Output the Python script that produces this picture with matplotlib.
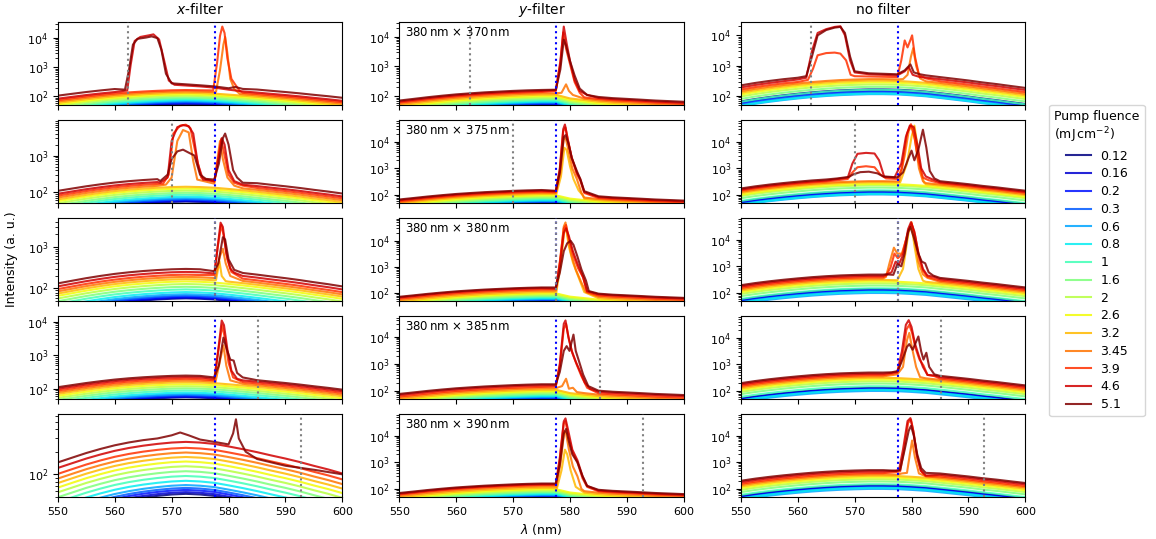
import matplotlib
matplotlib.use("Agg")
import matplotlib.pyplot as plt
from matplotlib.ticker import NullFormatter

# pump fluences (mJ cm^-2), one spectrum each
fluences = [0.12, 0.16, 0.2, 0.3, 0.6, 0.8, 1, 1.6, 2, 2.6, 3.2, 3.45, 3.9, 4.6, 5.1]
fluence_labels = ["0.12", "0.16", "0.2", "0.3", "0.6", "0.8", "1", "1.6", "2",
                  "2.6", "3.2", "3.45", "3.9", "4.6", "5.1"]

col_titles = ["$x$-filter", "$y$-filter", "no filter"]
grating_labels = ["380$\\,$nm $\\times$ 370$\\,$nm", "380$\\,$nm $\\times$ 375$\\,$nm",
                  "380$\\,$nm $\\times$ 380$\\,$nm", "380$\\,$nm $\\times$ 385$\\,$nm",
                  "380$\\,$nm $\\times$ 390$\\,$nm"]
bragg_x = 577.6                                      # blue dotted line
bragg_y = [562.4, 570.0, 577.6, 585.2, 592.8]        # grey dotted lines per row

# broad emission background (relative shape)
wl_nodes = [550, 552.5, 555, 557.5, 560, 562.5, 565, 567.5, 570, 572.5, 575,
            577.5, 580, 582.5, 585, 587.5, 590, 592.5, 595, 597.5, 600]
shape_x = [0.45, 0.52, 0.60, 0.68, 0.76, 0.83, 0.89, 0.94, 0.98, 1.0, 0.98,
           0.94, 0.87, 0.80, 0.73, 0.66, 0.60, 0.54, 0.48, 0.43, 0.38]
shape_y = [0.44, 0.50, 0.57, 0.64, 0.71, 0.77, 0.83, 0.88, 0.93, 0.97, 1.0,
           1.0, 0.75, 0.66, 0.58, 0.53, 0.50, 0.47, 0.44, 0.42, 0.40]
shape_nf = [0.40, 0.48, 0.56, 0.64, 0.72, 0.80, 0.87, 0.93, 0.97, 1.0, 1.0,
            0.98, 0.92, 0.85, 0.75, 0.66, 0.58, 0.50, 0.44, 0.38, 0.33]

# background level (counts at the maximum) for each fluence, per row
levels_x = [
    [55, 57, 60, 63, 68, 74, 82, 92, 105, 118, 132, 148, 165, 185, 235],
    [55, 57, 60, 63, 68, 75, 85, 96, 110, 125, 140, 158, 178, 200, 240],
    [58, 60, 63, 67, 73, 82, 95, 110, 128, 148, 168, 190, 215, 250, 295],
    [56, 58, 61, 65, 70, 78, 90, 104, 120, 138, 158, 178, 200, 225, 250],
    [55, 58, 62, 66, 72, 82, 95, 110, 128, 148, 170, 195, 225, 270, 320],
]
levels_y = [
    [52, 54, 56, 58, 62, 66, 72, 80, 90, 100, 112, 125, 138, 150, 162],
    [50, 52, 54, 56, 60, 64, 70, 78, 88, 98, 110, 122, 133, 145, 155],
    [50, 52, 54, 56, 60, 64, 70, 78, 88, 98, 110, 125, 140, 155, 165],
    [50, 52, 54, 56, 60, 64, 70, 78, 88, 98, 110, 125, 140, 160, 175],
    [50, 52, 54, 56, 60, 64, 70, 78, 88, 98, 110, 125, 140, 150, 160],
]
levels_nf = [
    [165, 155, 145, 130, 115, 120, 160, 200, 240, 280, 320, 360, 410, 480, 560],
    [140, 135, 125, 115, 105, 110, 150, 190, 230, 260, 300, 330, 370, 400, 440],
    [140, 135, 125, 115, 100, 110, 150, 190, 230, 270, 310, 350, 390, 440, 490],
    [130, 125, 118, 110, 100, 110, 150, 190, 230, 270, 310, 350, 390, 440, 490],
    [135, 130, 120, 112, 100, 110, 150, 190, 230, 270, 310, 350, 390, 450, 505],
]

# lasing features: fluence index -> (wavelength, counts) points
peaks_x = [
    {14: [(561.8, 170), (562.5, 800), (563.2, 6000), (564, 9500), (565.5, 10500), (566.5, 11500),
          (567.5, 10000), (568.2, 4000), (569, 600), (570, 280), (575, 240), (577.5, 220), (580, 190),
          (581.2, 210), (582.5, 180)],
     13: [(562.2, 160), (562.8, 1200), (563.5, 8000), (564.5, 11000), (566, 12500), (566.8, 13500),
          (567.8, 9000), (568.6, 2000), (569.5, 350), (570.5, 250), (575, 220), (577.5, 200), (580, 170)],
     12: [(577.3, 160), (578, 1500), (578.5, 12000), (578.9, 25000), (579.3, 15000), (579.8, 2000),
          (580.5, 400), (581.2, 250), (582, 150)],
     11: [(577.8, 145), (578.5, 800), (579.1, 6000), (579.4, 11000), (579.8, 3000), (580.3, 400),
          (581, 180), (582, 120)]},
    {14: [(568, 200), (569.3, 300), (570, 800), (571, 1300), (572, 1450), (573, 1200), (574, 1000),
          (575, 300), (576, 230), (577.5, 220), (578.3, 600), (579, 3000), (579.4, 4000), (580, 2000),
          (580.8, 400), (581.5, 250), (582.5, 180)],
     13: [(568, 180), (569.3, 250), (570, 2500), (571, 6000), (572, 6800), (573, 6400), (573.8, 4000),
          (574.6, 600), (575.5, 220), (577.5, 200), (578.3, 1000), (578.8, 3000), (579.3, 2000),
          (580, 400), (581, 200), (582.5, 160)],
     12: [(568.5, 170), (569.5, 300), (570.3, 4000), (571.5, 6600), (572.5, 7000), (573.3, 5600),
          (574.3, 1000), (575.2, 250), (577.5, 190), (578.2, 800), (578.7, 2800), (579.2, 1200),
          (580, 300), (581, 180), (582.5, 150)],
     11: [(569, 160), (570, 250), (571, 2500), (572, 5000), (573, 4300), (573.8, 700), (574.5, 220),
          (577.5, 170), (578.2, 1200), (578.5, 2500), (579, 800), (579.8, 250), (581, 150)]},
    {13: [(577.5, 230), (578, 800), (578.6, 3800), (579, 3000), (579.6, 700), (580.3, 300), (581, 240)],
     12: [(577.5, 210), (578.1, 1000), (578.7, 3400), (579.1, 2000), (579.8, 500), (580.5, 250)],
     14: [(577.5, 260), (578.2, 400), (579, 1700), (579.4, 1500), (580, 500), (581, 280)],
     11: [(577.7, 190), (578.5, 600), (579, 900), (579.5, 400), (580.3, 200)],
     10: [(577.8, 160), (578.4, 450), (578.8, 200), (579.5, 150)]},
    {13: [(577.5, 200), (578.2, 1500), (578.8, 11000), (579.2, 8000), (579.8, 1500), (580.5, 350),
          (581.5, 200)],
     12: [(577.5, 180), (578.3, 1800), (578.9, 8000), (579.4, 3000), (580, 600), (580.8, 220)],
     14: [(577.5, 220), (578.3, 500), (579.1, 3400), (579.7, 1500), (580.3, 750), (580.9, 700),
          (581.5, 300), (582.5, 220)],
     11: [(577.7, 160), (578.5, 700), (579.1, 2000), (579.6, 500), (580.3, 180)]},
    {14: [(567.5, 300), (570, 330), (571.5, 360), (573, 330), (575, 290), (577.5, 270), (580, 250),
          (580.8, 350), (581.3, 540), (581.8, 300), (583, 200), (585, 160), (590, 130), (595, 115),
          (600, 100)]},
]

peaks_y = [
    {13: [(577.5, 160), (578.3, 1500), (578.9, 22000), (579.4, 6000), (580, 1500), (580.8, 350),
          (581.7, 150), (583, 110)],
     12: [(577.5, 150), (578.3, 1200), (578.8, 14000), (579.3, 4000), (580, 1200), (580.8, 300),
          (581.7, 130)],
     14: [(577.5, 165), (578.3, 800), (578.9, 8000), (579.3, 5000), (580, 1500), (580.8, 500),
          (581.7, 180), (583, 110)],
     11: [(577.5, 125), (578.5, 130), (579.3, 250), (579.8, 150), (580.5, 110)]},
    {13: [(577.5, 140), (578.2, 1000), (578.8, 30000), (579.1, 45000), (579.6, 12000), (580.3, 2500),
          (581.2, 700), (581.8, 400), (582.5, 130)],
     12: [(577.5, 130), (578.2, 800), (578.8, 25000), (579.2, 35000), (579.7, 10000), (580.3, 2500),
          (581.2, 600), (581.8, 350), (582.5, 120)],
     14: [(577.5, 145), (578.2, 700), (578.9, 15000), (579.2, 18000), (579.7, 9000), (580.3, 2500),
          (581.2, 800), (581.8, 400), (582.5, 140)],
     11: [(577.5, 120), (578.3, 700), (578.9, 15000), (579.3, 12000), (579.8, 4000), (580.4, 1000),
          (581.2, 400), (582, 120)],
     10: [(577.6, 110), (578.4, 500), (579, 6000), (579.4, 5000), (580, 1200), (580.6, 400),
          (581.5, 150), (582.2, 100)]},
    {11: [(577.5, 125), (578.3, 2000), (578.9, 35000), (579.2, 50000), (579.6, 15000), (580.2, 3000),
          (581, 800), (582, 250), (582.8, 110)],
     10: [(577.6, 110), (578.4, 1500), (579, 25000), (579.3, 30000), (579.8, 6000), (580.5, 1500),
          (581.5, 400), (582.5, 110)],
     12: [(577.5, 140), (578.2, 1500), (578.9, 30000), (579.3, 40000), (579.8, 12000), (580.5, 3000),
          (581.4, 900), (582.3, 400), (583, 110)],
     13: [(577.5, 150), (578.2, 1200), (578.9, 20000), (579.3, 30000), (579.8, 15000), (580.5, 4000),
          (581.4, 1200), (582.3, 400), (583, 120)],
     14: [(577.5, 165), (578.2, 600), (578.9, 4000), (579.5, 8000), (580.1, 10000), (580.6, 7000),
          (581.3, 2500), (582, 800), (582.8, 300), (583.3, 120)]},
    {13: [(577.5, 160), (578.2, 1000), (578.9, 30000), (579.2, 40000), (579.7, 10000), (580.3, 3000),
          (581, 1200), (581.8, 500), (582.6, 200), (583.5, 120)],
     12: [(577.5, 145), (578.2, 800), (578.9, 20000), (579.3, 30000), (579.8, 8000), (580.4, 2500),
          (581.2, 900), (582, 350), (583, 130)],
     14: [(577.5, 175), (578.2, 500), (578.9, 3000), (579.4, 4500), (579.9, 3000), (580.6, 12000),
          (581, 3000), (581.6, 1200), (582.3, 400), (583.2, 150)],
     11: [(577.5, 125), (578.6, 150), (579.3, 280), (579.8, 120), (580.5, 130), (581.2, 90)]},
    {13: [(577.5, 150), (578.2, 1500), (578.9, 35000), (579.2, 45000), (579.7, 15000), (580.4, 3000),
          (581.3, 1200), (582.2, 300), (583, 130)],
     12: [(577.5, 140), (578.2, 1200), (578.9, 30000), (579.2, 35000), (579.7, 10000), (580.4, 2500),
          (581.3, 1000), (582.2, 250), (583, 120)],
     14: [(577.5, 160), (578.2, 800), (578.9, 12000), (579.3, 18000), (579.8, 6000), (580.4, 2000),
          (581.3, 1000), (582.2, 300), (583, 130)],
     11: [(577.6, 120), (578.3, 900), (579, 15000), (579.3, 12000), (579.8, 3000), (580.5, 700),
          (581.3, 300), (582, 100)],
     10: [(577.7, 105), (578.5, 500), (579.1, 3000), (579.5, 2000), (580.1, 500), (581, 120)]},
]

peaks_nf = [
    {14: [(560, 400), (561.5, 450), (562.5, 2000), (563.5, 10000), (565, 15000), (566.5, 18000),
          (567.5, 19000), (568.3, 12000), (569.2, 2000), (570, 650), (572.5, 560), (575, 540),
          (577.5, 520), (578.8, 700), (579.8, 1100), (580.4, 600), (581.5, 520), (582.5, 480)],
     13: [(560, 350), (561.5, 400), (562.5, 3000), (563.5, 12000), (565, 16000), (566.5, 19000),
          (567.5, 20000), (568.3, 10000), (569.2, 1500), (570, 600), (572.5, 520), (575, 500),
          (577.5, 480), (578.8, 650), (579.5, 900), (580.2, 500), (581.5, 420)],
     12: [(560, 290), (561.8, 340), (562.7, 800), (563.5, 2200), (565, 2600), (566.5, 2700),
          (567.5, 2500), (568.5, 1500), (569.3, 500), (570, 450), (575, 430), (577.5, 420),
          (578.2, 1500), (578.8, 6800), (579.3, 4000), (579.8, 7000), (580.1, 10000), (580.6, 2000),
          (581.3, 500), (582.5, 380)],
     11: [(578.5, 360), (579.3, 500), (579.9, 2000), (580.3, 3800), (580.8, 1000), (581.5, 380)]},
    {13: [(567, 400), (568.8, 450), (569.6, 1500), (570.5, 3500), (572, 3800), (573.5, 3600),
          (574.3, 2000), (575.2, 480), (577, 450), (578.2, 1500), (579, 15000), (579.7, 40000),
          (580.4, 35000), (581, 8000), (581.7, 1000), (582.5, 500), (583.5, 400)],
     12: [(567, 360), (568.8, 400), (569.6, 700), (570.5, 1100), (572, 1200), (573.5, 1100),
          (574.5, 600), (575.5, 420), (577.5, 400), (578.3, 1000), (579.2, 20000), (579.9, 45000),
          (580.5, 15000), (581.2, 2000), (582, 450), (583, 360)],
     14: [(567, 420), (569, 480), (569.8, 600), (571, 720), (572.5, 750), (574, 650), (575, 500),
          (577.5, 460), (578.5, 700), (579.5, 2500), (580, 4600), (580.5, 2000), (581.2, 5000),
          (582, 28000), (582.6, 6000), (583.2, 800), (584, 420)],
     11: [(577.8, 320), (578.8, 3000), (579.5, 25000), (580, 40000), (580.6, 12000), (581.3, 1000),
          (582, 330)],
     10: [(578, 300), (579.2, 1500), (580, 15000), (580.5, 40000), (581, 8000), (581.6, 800),
          (582.2, 290)]},
    {13: [(575.5, 480), (576.5, 600), (577.2, 1500), (577.8, 1200), (578.6, 3000), (579.4, 25000),
          (579.9, 45000), (580.5, 20000), (581.2, 3000), (582, 800), (582.8, 450), (584, 400)],
     12: [(575.5, 440), (576.3, 900), (577, 3000), (577.6, 2000), (578.4, 3000), (579.4, 20000),
          (580, 40000), (580.6, 15000), (581.3, 2500), (582, 700), (582.8, 400)],
     11: [(575.5, 400), (576.2, 1500), (576.9, 5000), (577.5, 3000), (578.3, 3000), (579.3, 15000),
          (580, 45000), (580.5, 12000), (581.2, 1500), (582, 500), (582.8, 370)],
     14: [(575.5, 500), (576.8, 480), (577.5, 1200), (578.2, 1000), (578.8, 3000), (579.4, 20000),
          (579.8, 30000), (580.4, 12000), (581.2, 3000), (581.8, 1500), (582.4, 1300), (583, 600),
          (583.8, 450)],
     10: [(577.5, 300), (578.5, 800), (579.5, 20000), (580, 35000), (580.5, 6000), (581.2, 800),
          (582, 290)]},
    {13: [(576.5, 480), (577.5, 520), (578.3, 3000), (579, 30000), (579.5, 45000), (580, 25000),
          (580.6, 6000), (581.3, 2000), (582, 800), (582.8, 400), (584, 380)],
     12: [(576.5, 440), (577.5, 480), (578.4, 2000), (579.1, 20000), (579.6, 30000), (580.1, 15000),
          (580.7, 4000), (581.4, 1500), (582.1, 900), (582.8, 400), (584, 360)],
     14: [(576.5, 500), (577.6, 560), (578.4, 1500), (579.2, 4500), (579.6, 5700), (580.2, 3500),
          (580.8, 7000), (581.2, 11000), (581.7, 3000), (582.1, 1500), (582.6, 2700), (583.1, 800),
          (584, 420)],
     11: [(577.5, 420), (578.5, 800), (579.2, 8000), (579.6, 15000), (580.1, 4000), (580.8, 800),
          (581.5, 330)]},
    {13: [(577.3, 480), (577.8, 500), (578.5, 3000), (579.3, 35000), (579.8, 45000), (580.3, 15000),
          (580.9, 2000), (581.6, 500), (582.5, 320)],
     12: [(577.3, 430), (578, 460), (578.7, 3000), (579.4, 30000), (579.9, 40000), (580.4, 12000),
          (581, 1500), (581.7, 450), (582.5, 300)],
     14: [(577.3, 480), (578, 520), (578.8, 3000), (579.5, 15000), (579.9, 23000), (580.4, 10000),
          (581, 2000), (581.7, 600), (582.5, 400)],
     11: [(578.3, 380), (579.2, 400), (579.7, 2000), (580.1, 6500), (580.6, 1500), (581.3, 380)]},
]

columns = [(shape_x, levels_x, peaks_x), (shape_y, levels_y, peaks_y), (shape_nf, levels_nf, peaks_nf)]


def spectrum(shape, level, pts):
    # background nodes outside the lasing feature + the feature points themselves
    bg = [(w, s * level) for w, s in zip(wl_nodes, shape)]
    if pts:
        lo, hi = pts[0][0], pts[-1][0]
        bg = [p for p in bg if p[0] < lo or p[0] > hi] + list(pts)
    bg.sort()
    return [p[0] for p in bg], [p[1] for p in bg]


cmap = plt.get_cmap("jet")
colors = [cmap(i / (len(fluences) - 1)) for i in range(len(fluences))]

fig, axes = plt.subplots(5, 3, figsize=(11.56, 5.39), dpi=100, sharex=True)
fig.subplots_adjust(left=0.050, right=0.887, top=0.959, bottom=0.078, wspace=0.2, hspace=0.18)

handles = []
for c, (shape, levels, peaks) in enumerate(columns):
    for r in range(5):
        ax = axes[r, c]
        for i in range(len(fluences)):
            wl, inten = spectrum(shape, levels[r][i], peaks[r].get(i))
            ln, = ax.plot(wl, inten, color=colors[i], lw=1.5, alpha=0.85)
            if r == 0 and c == 0:
                handles.append(ln)
        ax.set_yscale("log")
        ax.axvline(bragg_x, color="blue", ls=":", lw=1.5, zorder=5)
        ax.axvline(bragg_y[r], color="gray", ls=":", lw=1.5, zorder=5)
        ax.set_xlim(550, 600)
        ax.set_ylim(bottom=50)
        ax.yaxis.set_minor_formatter(NullFormatter())
        ax.tick_params(labelsize=8)
        if c == 1:
            ax.text(0.02, 0.87, grating_labels[r], transform=ax.transAxes,
                    ha="left", va="center", fontsize=8.5)
    axes[0, c].set_title(col_titles[c], fontsize=10)

axes[0, 0].set_xticks([550, 560, 570, 580, 590, 600])
axes[4, 1].set_xlabel("$\\lambda$ (nm)", fontsize=9)
axes[2, 0].set_ylabel("Intensity (a. u.)", fontsize=9)
axes[2, 0].yaxis.set_label_coords(-0.14, 0.5)

leg = fig.legend(handles, fluence_labels, loc="center left", bbox_to_anchor=(1043 / 1156, 0.517),
                 title="Pump fluence\n(mJ$\\,$cm$^{-2}$)", fontsize=9, title_fontsize=9,
                 labelspacing=0.38)
leg.get_title().set_multialignment("left")

fig.savefig("out.png", dpi=100)
